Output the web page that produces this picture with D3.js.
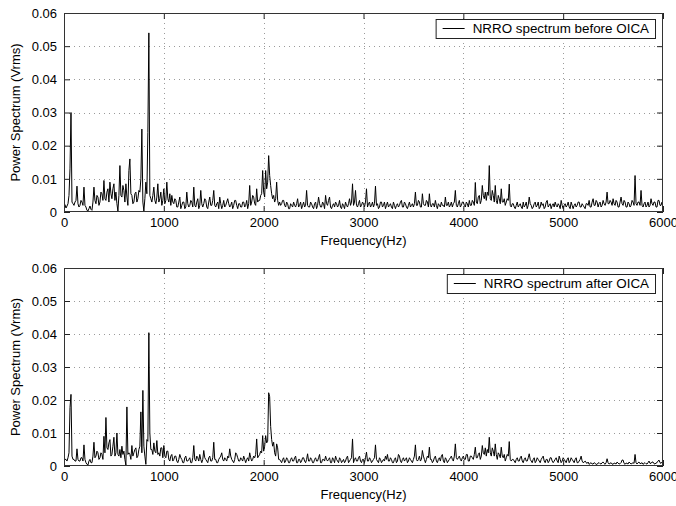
<!DOCTYPE html>
<html>
<head>
<meta charset="utf-8">
<script src="https://cdn.jsdelivr.net/npm/d3@7"></script>
<style>
  html, body { margin: 0; padding: 0; background: #fff; }
  svg { display: block; font-family: "Liberation Sans", Arial, Helvetica, sans-serif; }
</style>
</head>
<body>
<svg id="chart" width="676" height="506"></svg>
<script>
// Frequency resolution of the spectra (Hz per bin)
const freqStep = 10;

// NRRO amplitude spectrum before OICA (Vrms), one value per bin, 0 Hz .. 6000 Hz (20 bins per row)
const spectrumBefore = [
  .0015,.0022,.0012,.0018,.0025,.0050,.0130,.0300,.0030,.0025,.0020,.0030,.0035,.0078,.0025,.0015,.0020,.0035,.0030,.0020,
  .0075,.0020,.0015,.0005,.0003,.0010,.0018,.0008,.0005,.0030,.0075,.0035,.0025,.0050,.0045,.0020,.0030,.0060,.0055,.0035,
  .0095,.0040,.0035,.0060,.0070,.0030,.0090,.0055,.0040,.0070,.0085,.0035,.0060,.0025,.0003,.0050,.0140,.0050,.0045,.0080,
  .0065,.0030,.0085,.0045,.0020,.0125,.0160,.0055,.0050,.0025,.0030,.0055,.0060,.0030,.0040,.0065,.0060,.0100,.0250,.0030,
  .0003,.0040,.0090,.0055,.0240,.0540,.0050,.0040,.0030,.0050,.0075,.0035,.0025,.0045,.0085,.0030,.0040,.0060,.0020,.0035,
  .0070,.0025,.0035,.0090,.0040,.0030,.0055,.0020,.0050,.0030,.0025,.0040,.0035,.0015,.0015,.0030,.0045,.0010,.0020,.0030,
  .0030,.0010,.0015,.0060,.0025,.0015,.0020,.0035,.0030,.0015,.0075,.0020,.0015,.0030,.0040,.0010,.0020,.0065,.0025,.0015,
  .0025,.0040,.0035,.0015,.0010,.0030,.0045,.0020,.0020,.0035,.0065,.0020,.0015,.0025,.0030,.0010,.0045,.0025,.0010,.0020,
  .0035,.0015,.0020,.0030,.0040,.0025,.0015,.0020,.0030,.0010,.0020,.0035,.0035,.0020,.0010,.0025,.0025,.0015,.0015,.0030,
  .0030,.0015,.0020,.0035,.0010,.0025,.0080,.0020,.0030,.0050,.0045,.0025,.0020,.0070,.0030,.0035,.0035,.0050,.0055,.0125,
  .0060,.0045,.0125,.0070,.0090,.0170,.0110,.0080,.0055,.0040,.0050,.0030,.0040,.0090,.0035,.0020,.0030,.0020,.0025,.0035,
  .0035,.0020,.0015,.0030,.0025,.0010,.0010,.0025,.0020,.0015,.0030,.0020,.0015,.0025,.0040,.0015,.0020,.0030,.0010,.0020,
  .0030,.0015,.0020,.0065,.0020,.0015,.0015,.0030,.0025,.0015,.0010,.0025,.0030,.0010,.0020,.0045,.0025,.0015,.0015,.0030,
  .0025,.0010,.0050,.0025,.0020,.0035,.0045,.0015,.0010,.0020,.0025,.0015,.0030,.0025,.0015,.0020,.0035,.0015,.0010,.0025,
  .0020,.0010,.0030,.0020,.0015,.0025,.0040,.0020,.0030,.0085,.0020,.0030,.0065,.0020,.0015,.0025,.0035,.0015,.0020,.0030,
  .0025,.0015,.0030,.0070,.0015,.0025,.0030,.0015,.0020,.0030,.0015,.0025,.0078,.0020,.0025,.0010,.0015,.0030,.0030,.0015,
  .0020,.0030,.0010,.0020,.0030,.0015,.0020,.0025,.0015,.0010,.0030,.0020,.0010,.0020,.0025,.0015,.0020,.0030,.0035,.0015,
  .0015,.0030,.0025,.0015,.0010,.0020,.0030,.0015,.0020,.0025,.0015,.0025,.0060,.0020,.0020,.0035,.0030,.0015,.0015,.0055,
  .0025,.0020,.0020,.0035,.0030,.0015,.0055,.0020,.0015,.0025,.0025,.0015,.0035,.0020,.0010,.0025,.0020,.0015,.0030,.0020,
  .0020,.0015,.0045,.0020,.0020,.0030,.0015,.0020,.0030,.0015,.0025,.0030,.0065,.0020,.0015,.0025,.0035,.0015,.0020,.0030,
  .0030,.0020,.0015,.0030,.0025,.0015,.0035,.0020,.0020,.0035,.0030,.0020,.0089,.0030,.0025,.0045,.0050,.0025,.0035,.0080,
  .0050,.0040,.0060,.0035,.0060,.0050,.0140,.0040,.0035,.0065,.0050,.0030,.0080,.0035,.0025,.0050,.0040,.0025,.0070,.0030,
  .0030,.0040,.0020,.0030,.0040,.0035,.0084,.0020,.0015,.0025,.0025,.0015,.0010,.0020,.0030,.0015,.0020,.0025,.0015,.0010,
  .0030,.0015,.0020,.0030,.0010,.0020,.0045,.0025,.0020,.0010,.0015,.0025,.0030,.0015,.0020,.0030,.0010,.0015,.0030,.0020,
  .0025,.0010,.0015,.0030,.0035,.0015,.0020,.0025,.0010,.0020,.0025,.0015,.0030,.0020,.0015,.0025,.0020,.0010,.0035,.0020,
  .0010,.0020,.0025,.0015,.0020,.0030,.0015,.0010,.0030,.0020,.0010,.0020,.0025,.0015,.0020,.0030,.0030,.0015,.0015,.0025,
  .0020,.0015,.0010,.0025,.0025,.0020,.0035,.0015,.0015,.0030,.0040,.0020,.0020,.0035,.0030,.0015,.0025,.0030,.0015,.0020,
  .0035,.0025,.0020,.0030,.0060,.0025,.0025,.0035,.0030,.0020,.0040,.0025,.0020,.0035,.0030,.0015,.0015,.0030,.0045,.0025,
  .0020,.0035,.0030,.0015,.0015,.0030,.0025,.0015,.0020,.0035,.0030,.0020,.0110,.0025,.0020,.0030,.0030,.0020,.0065,.0020,
  .0015,.0025,.0030,.0015,.0020,.0030,.0015,.0020,.0040,.0025,.0020,.0030,.0030,.0015,.0015,.0035,.0035,.0020,.0020,.0030,
  .0025
];

// NRRO amplitude spectrum after OICA (Vrms), same bins
const spectrumAfter = [
  .0015,.0020,.0020,.0015,.0025,.0040,.0177,.0217,.0030,.0020,.0020,.0015,.0015,.0052,.0020,.0015,.0015,.0025,.0025,.0015,
  .0064,.0020,.0010,.0005,.0003,.0015,.0020,.0010,.0010,.0030,.0072,.0025,.0030,.0045,.0040,.0020,.0025,.0040,.0035,.0020,
  .0090,.0040,.0147,.0055,.0050,.0070,.0080,.0030,.0035,.0060,.0087,.0030,.0040,.0100,.0035,.0030,.0050,.0025,.0060,.0035,
  .0045,.0020,.0003,.0179,.0035,.0040,.0035,.0020,.0062,.0030,.0040,.0050,.0055,.0025,.0030,.0050,.0060,.0164,.0040,.0229,
  .0060,.0030,.0005,.0080,.0075,.0404,.0100,.0050,.0050,.0035,.0070,.0045,.0040,.0077,.0035,.0040,.0030,.0055,.0055,.0025,
  .0062,.0030,.0025,.0045,.0045,.0020,.0015,.0030,.0035,.0015,.0020,.0030,.0030,.0015,.0010,.0020,.0035,.0025,.0020,.0010,
  .0010,.0025,.0030,.0015,.0015,.0020,.0025,.0010,.0010,.0025,.0062,.0020,.0015,.0030,.0025,.0015,.0035,.0020,.0010,.0020,
  .0047,.0025,.0020,.0015,.0010,.0025,.0030,.0015,.0015,.0025,.0072,.0020,.0020,.0010,.0010,.0020,.0025,.0030,.0040,.0020,
  .0015,.0025,.0020,.0015,.0030,.0025,.0052,.0030,.0020,.0015,.0010,.0020,.0040,.0035,.0025,.0015,.0015,.0025,.0020,.0015,
  .0030,.0020,.0010,.0020,.0025,.0015,.0040,.0025,.0015,.0020,.0030,.0025,.0035,.0082,.0025,.0030,.0035,.0045,.0040,.0092,
  .0045,.0060,.0092,.0070,.0075,.0222,.0210,.0120,.0080,.0060,.0072,.0040,.0030,.0067,.0055,.0020,.0020,.0015,.0010,.0020,
  .0025,.0010,.0015,.0025,.0020,.0010,.0010,.0020,.0025,.0015,.0015,.0025,.0030,.0010,.0010,.0020,.0020,.0010,.0015,.0025,
  .0025,.0015,.0010,.0020,.0037,.0015,.0015,.0025,.0020,.0010,.0010,.0020,.0025,.0015,.0015,.0025,.0035,.0010,.0010,.0020,
  .0020,.0015,.0030,.0020,.0015,.0020,.0025,.0010,.0010,.0025,.0020,.0010,.0030,.0020,.0015,.0010,.0025,.0020,.0010,.0015,
  .0020,.0010,.0015,.0025,.0030,.0010,.0015,.0020,.0025,.0082,.0010,.0020,.0025,.0015,.0015,.0025,.0030,.0015,.0010,.0020,
  .0020,.0010,.0025,.0042,.0015,.0015,.0025,.0020,.0010,.0015,.0020,.0025,.0064,.0020,.0015,.0010,.0025,.0020,.0010,.0015,
  .0020,.0015,.0030,.0020,.0035,.0015,.0015,.0025,.0020,.0010,.0010,.0020,.0025,.0010,.0015,.0035,.0030,.0015,.0010,.0020,
  .0025,.0015,.0020,.0025,.0010,.0015,.0025,.0020,.0015,.0010,.0020,.0030,.0064,.0020,.0015,.0020,.0030,.0015,.0020,.0047,
  .0030,.0020,.0010,.0020,.0030,.0025,.0057,.0020,.0020,.0010,.0015,.0025,.0030,.0015,.0010,.0020,.0025,.0015,.0030,.0035,
  .0015,.0010,.0025,.0020,.0010,.0015,.0020,.0025,.0030,.0020,.0015,.0030,.0067,.0025,.0020,.0025,.0030,.0020,.0015,.0025,
  .0030,.0020,.0020,.0035,.0035,.0015,.0015,.0030,.0030,.0025,.0020,.0035,.0057,.0025,.0025,.0035,.0040,.0020,.0030,.0062,
  .0040,.0035,.0055,.0030,.0050,.0040,.0087,.0040,.0030,.0055,.0045,.0030,.0067,.0035,.0020,.0040,.0035,.0025,.0057,.0030,
  .0025,.0035,.0015,.0025,.0035,.0030,.0074,.0020,.0015,.0020,.0020,.0015,.0010,.0020,.0025,.0015,.0015,.0025,.0030,.0015,
  .0010,.0020,.0025,.0015,.0015,.0025,.0037,.0020,.0015,.0010,.0020,.0025,.0010,.0015,.0025,.0020,.0015,.0010,.0020,.0025,
  .0030,.0015,.0010,.0020,.0020,.0010,.0015,.0025,.0025,.0015,.0010,.0015,.0020,.0025,.0015,.0010,.0030,.0020,.0010,.0015,
  .0025,.0020,.0015,.0010,.0020,.0025,.0010,.0015,.0025,.0020,.0015,.0010,.0020,.0025,.0010,.0010,.0015,.0020,.0030,.0015,
  .0010,.0012,.0015,.0010,.0008,.0012,.0005,.0008,.0010,.0006,.0006,.0010,.0008,.0005,.0005,.0009,.0010,.0007,.0006,.0010,
  .0012,.0008,.0005,.0010,.0022,.0010,.0006,.0008,.0010,.0006,.0005,.0009,.0008,.0006,.0012,.0009,.0006,.0007,.0010,.0018,
  .0018,.0008,.0005,.0009,.0008,.0006,.0012,.0009,.0006,.0008,.0010,.0008,.0035,.0010,.0006,.0010,.0012,.0007,.0008,.0010,
  .0005,.0008,.0010,.0007,.0006,.0010,.0015,.0008,.0008,.0012,.0012,.0007,.0006,.0009,.0010,.0015,.0018,.0010,.0008,.0012,
  .0012
];

const xTicks = [0, 1000, 2000, 3000, 4000, 5000, 6000];
const yTicks = [0, 0.01, 0.02, 0.03, 0.04, 0.05, 0.06];
const xTitle = "Frequency(Hz)";
const yTitle = "Power Spectrum (Vrms)";
const legendLabels = ["NRRO spectrum before OICA", "NRRO spectrum after OICA"];

const svg = d3.select("#chart");
const left = 64, right = 663;
const panels = [
  { values: spectrumBefore, label: legendLabels[0], top: 13, bottom: 212 },
  { values: spectrumAfter,  label: legendLabels[1], top: 268, bottom: 466 }
];

const x = d3.scaleLinear().domain([0, 6000]).range([left, right]);
const fmtY = d3.format("~g");
const fmtX = d3.format("d");
const tickLen = 6;

panels.forEach((p, idx) => {
  const y = d3.scaleLinear().domain([0, 0.06]).range([p.bottom, p.top]);
  const g = svg.append("g");
  const w = right - left, h = p.bottom - p.top;

  // dotted grid
  const grid = g.append("g").attr("stroke", "#9a9a9a").attr("stroke-width", 1)
    .attr("stroke-dasharray", "1,4").attr("shape-rendering", "crispEdges");
  grid.selectAll("line.v").data(xTicks.slice(1, -1)).join("line")
    .attr("x1", d => Math.round(x(d)) + 0.5).attr("x2", d => Math.round(x(d)) + 0.5)
    .attr("y1", p.top).attr("y2", p.bottom);
  grid.selectAll("line.h").data(yTicks.slice(1, -1)).join("line")
    .attr("x1", left).attr("x2", right)
    .attr("y1", d => Math.round(y(d)) + 0.5).attr("y2", d => Math.round(y(d)) + 0.5);

  // spectrum trace
  const clipId = "clip" + idx;
  svg.append("clipPath").attr("id", clipId).append("rect")
    .attr("x", left).attr("y", p.top).attr("width", w).attr("height", h);
  const line = d3.line()
    .x((d, i) => x(i * freqStep))
    .y(d => y(d));
  g.append("path").datum(p.values)
    .attr("clip-path", `url(#${clipId})`)
    .attr("fill", "none").attr("stroke", "#000").attr("stroke-width", 1)
    .attr("stroke-linejoin", "miter")
    .attr("d", line);

  // axes with inward ticks on all four sides
  const axB = g.append("g").attr("transform", `translate(0,${p.bottom})`)
    .call(d3.axisBottom(x).tickValues(xTicks).tickFormat(fmtX).tickSizeInner(-tickLen).tickSizeOuter(0).tickPadding(6));
  const axT = g.append("g").attr("transform", `translate(0,${p.top})`)
    .call(d3.axisTop(x).tickValues(xTicks).tickFormat("").tickSizeInner(-tickLen).tickSizeOuter(0));
  const axL = g.append("g").attr("transform", `translate(${left},0)`)
    .call(d3.axisLeft(y).tickValues(yTicks).tickFormat(fmtY).tickSizeInner(-tickLen).tickSizeOuter(0).tickPadding(7));
  const axR = g.append("g").attr("transform", `translate(${right},0)`)
    .call(d3.axisRight(y).tickValues(yTicks).tickFormat("").tickSizeInner(-tickLen).tickSizeOuter(0));
  [axB, axT, axL, axR].forEach(a => {
    a.select(".domain").remove();
    a.selectAll("line").attr("stroke", "#222");
    a.selectAll("text").attr("fill", "#000").attr("font-size", 13)
      .attr("font-family", "'Liberation Sans', Arial, sans-serif");
  });

  // frame
  g.append("rect").attr("x", left + 0.5).attr("y", p.top + 0.5)
    .attr("width", w - 1).attr("height", h - 1)
    .attr("fill", "none").attr("stroke", "#333").attr("stroke-width", 1);

  // axis titles
  g.append("text").attr("x", (left + right) / 2).attr("y", p.bottom + 33)
    .attr("text-anchor", "middle").attr("font-size", 13).text(xTitle);
  g.append("text")
    .attr("transform", `translate(20,${(p.top + p.bottom) / 2}) rotate(-90)`)
    .attr("text-anchor", "middle").attr("font-size", 13).text(yTitle);

  // legend
  const lg = g.append("g");
  const boxRight = right - 8, boxTop = p.top + 6, boxH = 19;
  const txt = lg.append("text").attr("font-size", 13.4).attr("text-anchor", "end")
    .attr("x", boxRight - 6).attr("y", boxTop + 14).text(p.label);
  const tw = txt.node().getComputedTextLength();
  const textLeft = boxRight - 6 - tw;
  const boxLeft = textLeft - 37;
  lg.insert("rect", "text").attr("x", boxLeft + 0.5).attr("y", boxTop + 0.5)
    .attr("width", boxRight - boxLeft).attr("height", boxH)
    .attr("fill", "#fff").attr("stroke", "#222").attr("stroke-width", 1);
  lg.append("line").attr("x1", textLeft - 30).attr("x2", textLeft - 8)
    .attr("y1", boxTop + 9.5).attr("y2", boxTop + 9.5)
    .attr("stroke", "#000").attr("stroke-width", 1);
});
</script>
</body>
</html>
